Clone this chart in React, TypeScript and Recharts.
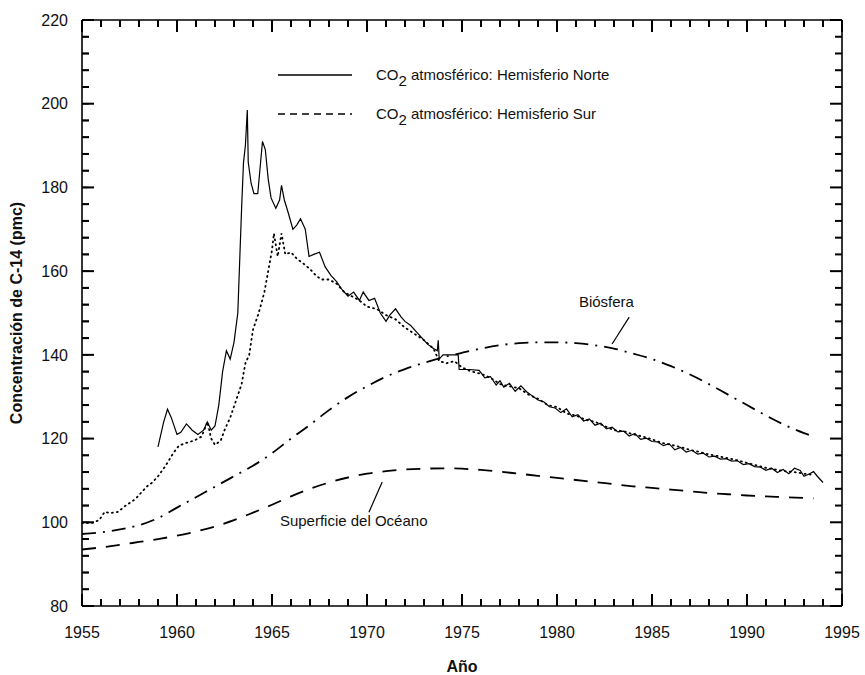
import React from 'react';
import { LineChart, Line, XAxis, YAxis, ReferenceLine, ReferenceDot, Customized } from 'recharts';

// ---------- DATA ----------
const nhYears = [
  1959.0, 1959.3, 1959.5, 1959.7, 1960.0, 1960.2, 1960.5, 1960.8, 1961.1, 1961.4, 1961.6, 1961.8,
  1962.0, 1962.2, 1962.4, 1962.6, 1962.8, 1963.0, 1963.2, 1963.4, 1963.5, 1963.6, 1963.7, 1963.75,
  1963.9, 1964.05, 1964.25, 1964.4, 1964.5, 1964.65, 1964.8, 1964.95, 1965.2, 1965.4, 1965.5, 1965.65,
  1965.85, 1966.1, 1966.3, 1966.5, 1966.75, 1966.95, 1967.2, 1967.5, 1967.8, 1968.1, 1968.4, 1968.7,
  1969.0, 1969.3, 1969.6, 1969.8, 1970.1, 1970.4, 1970.7, 1971.0, 1971.2, 1971.5, 1971.8, 1972.0,
  1972.3, 1972.6, 1972.9, 1973.2, 1973.5, 1973.7, 1973.75, 1973.8, 1974.0, 1974.4, 1974.8, 1974.85,
  1975.4, 1975.9, 1976.2, 1976.5, 1976.8, 1977.0, 1977.2, 1977.5, 1977.8, 1978.1, 1978.4, 1978.7,
  1979.0, 1979.3, 1979.6, 1979.9, 1980.2, 1980.5, 1980.8, 1981.1, 1981.4, 1981.7, 1982.0, 1982.3,
  1982.6, 1982.9, 1983.2, 1983.5, 1983.8, 1984.1, 1984.4, 1984.7, 1985.0, 1985.3, 1985.6, 1985.9,
  1986.2, 1986.5, 1986.8, 1987.1, 1987.4, 1987.7, 1988.0, 1988.3, 1988.6, 1988.9, 1989.2, 1989.5,
  1989.8, 1990.1, 1990.4, 1990.7, 1991.0, 1991.3, 1991.6, 1991.9, 1992.2, 1992.5, 1992.8, 1993.0,
  1993.3, 1993.5, 1993.7, 1994.0,
];
const nhValues = [
  118, 124, 127, 125, 121, 121.5, 123.5, 122, 121, 122, 124, 122,
  123, 128, 136, 141, 139, 143, 150, 175, 186, 190, 198.5, 186,
  181, 178.5, 178.5, 186, 191, 189, 182, 177.5, 175, 177, 180.5, 177,
  174, 170, 171, 172.5, 170, 163.5, 164, 164.5, 161, 159, 157.5, 155.5,
  154, 155, 153, 155, 153, 153.5, 150, 148, 149.5, 151, 149, 148,
  147, 145.5, 144, 142.5, 141.5, 141, 143.5, 139, 140, 140, 140, 136.5,
  136.5, 136.3, 134.5, 134.8, 132.8, 133.8, 132.3, 133.2, 131.3, 132.6, 131.2, 130.2,
  129.2, 128.8, 127.6, 127.3, 126.2, 127.1, 125.2, 125.7, 124.2, 124.7, 123.2, 123.7,
  122.3, 122.7, 121.6, 121.8, 120.6, 121.2, 119.8, 120.1, 119.3, 119.2, 118.3, 118.8,
  117.3, 117.9, 116.8, 117.2, 116.3, 116.5, 115.6, 115.8, 115.1, 115.2, 114.6, 114.7,
  113.8, 114, 113.3, 113.2, 112.4, 112.9, 111.9, 112.6, 111.6, 112.9, 112.4, 111,
  111.6, 112.1, 111, 109.5,
];

const shYears = [
  1955.0, 1955.5, 1955.9, 1956.2, 1956.5, 1956.9, 1957.3, 1957.8, 1958.1, 1958.4, 1958.7, 1959.0,
  1959.4, 1959.8, 1960.1, 1960.5, 1960.9, 1961.3, 1961.6, 1961.8, 1962.0, 1962.3, 1962.5, 1962.8,
  1963.1, 1963.4, 1963.6, 1963.8, 1964.0, 1964.3, 1964.6, 1964.8, 1965.0, 1965.1, 1965.3, 1965.5,
  1965.7, 1966.0, 1966.3, 1966.6, 1967.0, 1967.3, 1967.6, 1968.0, 1968.4, 1968.8, 1969.2, 1969.6,
  1970.0, 1970.5, 1971.0, 1971.5, 1972.0, 1972.5, 1973.0, 1973.5, 1973.8, 1974.2, 1974.6, 1975.0,
  1975.5, 1976.0, 1976.5, 1977.0, 1977.5, 1978.0, 1978.5, 1979.0, 1979.5, 1980.0, 1980.5, 1981.0,
  1981.5, 1982.0, 1982.5, 1983.0, 1983.5, 1984.0, 1984.5, 1985.0, 1985.5, 1986.0, 1986.5, 1987.0,
  1987.5, 1988.0, 1988.5, 1989.0, 1989.5, 1990.0, 1990.5, 1991.0, 1991.5, 1992.0, 1992.5, 1993.0,
  1993.5,
];
const shValues = [
  99.8, 99.8, 100.5, 102.5, 102.2, 102.5, 104, 105.5, 107, 108.5, 109.5, 111,
  113.5, 116.5, 118.3, 119, 119.5, 120.5, 124, 120, 118.5, 119.5, 122, 125,
  129, 133, 138, 140, 146, 150, 155, 160, 165, 169, 163.5, 169,
  164, 164.5, 163, 162, 160.5, 159, 158, 158, 157, 155, 154, 153,
  151.5, 151, 149.5, 148.5, 146.5, 145, 143.5, 141.5, 138.5, 138, 138.5, 137,
  136, 135.5, 134.5, 133, 132.5, 132, 130.5, 129.5, 128, 127.5, 126, 125.5,
  124.5, 124, 123, 122, 121.8, 121, 120.5, 119.8, 119, 118.5, 118, 117.3,
  116.8, 116.2, 115.8, 115.3, 114.8, 114.2, 113.6, 113, 112.6, 112.2, 112, 111.6,
  111.3,
];

const bioYears = [
  1955, 1956, 1957, 1958, 1959, 1960, 1961, 1962, 1963, 1964, 1965, 1966, 1967, 1968, 1969, 1970,
  1971, 1972, 1973, 1974, 1975, 1976, 1977, 1978, 1979, 1980, 1981, 1982, 1983, 1984, 1985, 1986,
  1987, 1988, 1989, 1990, 1991, 1992, 1993, 1993.5,
];
const bioValues = [
  97.2, 97.6, 98.3, 99.3, 101, 103.5, 106, 108.5, 111, 113.5, 116.5, 120, 123.3, 126.8, 129.9, 132.5,
  134.8, 136.6, 138.1, 139.4, 140.5, 141.5, 142.3, 142.8, 143, 143, 142.8, 142.3, 141.5, 140.3, 139, 137.3,
  135.3, 133, 130.5, 128, 125.5, 123.2, 121.3, 120.5,
];

const oceanYears = [
  1955, 1956, 1957, 1958, 1959, 1960, 1961, 1962, 1963, 1964, 1965, 1966, 1967, 1968, 1969, 1970,
  1971, 1972, 1973, 1974, 1975, 1976, 1977, 1978, 1979, 1980, 1981, 1982, 1983, 1984, 1985, 1986,
  1987, 1988, 1989, 1990, 1991, 1992, 1993, 1993.5,
];
const oceanValues = [
  93.5, 94, 94.6, 95.3, 96, 96.8, 97.8, 99, 100.5, 102.3, 104.2, 106.2, 108, 109.5, 110.7, 111.6,
  112.2, 112.6, 112.8, 112.9, 112.8, 112.5, 112.1, 111.6, 111.1, 110.6, 110.1, 109.6, 109.1, 108.6, 108.2, 107.8,
  107.4, 107, 106.7, 106.4, 106.2, 106, 105.8, 105.7,
];

const xMajorLabels = [1955, 1960, 1965, 1970, 1975, 1980, 1985, 1990, 1995];
const yMajorLabels = [80, 100, 120, 140, 160, 180, 200, 220];
const xTicks = Array.from({ length: 41 }, (_, i) => 1955 + i);
const yTicks = Array.from({ length: 36 }, (_, i) => 80 + i * 4);

const legendLabels = ['atmosférico: Hemisferio Norte', 'atmosférico: Hemisferio Sur'];
const biosphereLabel = 'Biósfera';
const oceanLabel = 'Superficie del Océano';
const yTitle = 'Concentración de C-14 (pmc)';
const xTitle = 'Año';

// ---------- build ----------
const toRows = (xs: number[], ys: number[]) => xs.map((x, i) => ({ year: x, value: ys[i] }));
const nhData = toRows(nhYears, nhValues);
const shData = toRows(shYears, shValues);
const bioData = toRows(bioYears, bioValues);
const oceanData = toRows(oceanYears, oceanValues);

const X_MIN = 1955, X_MAX = 1995, Y_MIN = 80, Y_MAX = 220;

// layout
const W = 865, H = 675;
const M = { top: 20, right: 23, bottom: 69, left: 82 };
const PL = M.left, PR = W - M.right, PT = M.top, PB = H - M.bottom;
const sx = (v: number) => PL + ((v - X_MIN) / (X_MAX - X_MIN)) * (PR - PL);
const sy = (v: number) => PB - ((v - Y_MIN) / (Y_MAX - Y_MIN)) * (PB - PT);
const MAJOR = 12, MINOR = 7;

const FONT = '"Liberation Sans", Arial, Helvetica, sans-serif';
const INK = '#000';
const tickLineStyle = { stroke: INK, strokeWidth: 1.5 };

// labels placed from the frame edges, tick x/y from the axis scale
const BottomTick = (props: any) => {
  const { x, payload } = props;
  if (!xMajorLabels.includes(payload.value)) return <g />;
  return (
    <text x={x} y={PB + 32} textAnchor="middle" fontSize={16} fill="#111" fontFamily={FONT}>
      {payload.value}
    </text>
  );
};
const LeftTick = (props: any) => {
  const { y, payload } = props;
  if (!yMajorLabels.includes(payload.value)) return <g />;
  return (
    <text x={PL - 14} y={y} dy="0.36em" textAnchor="end" fontSize={16} fill="#111" fontFamily={FONT}>
      {payload.value}
    </text>
  );
};
const NoLabel = () => <g />;

const Decorations = () => {
  const ticks: React.ReactNode[] = [];
  xTicks.forEach((t) => {
    const len = xMajorLabels.includes(t) ? MAJOR : MINOR;
    const x = sx(t);
    ticks.push(<rect key={`b${t}`} x={x - 1} y={PB - len} width={2} height={len} fill={INK} />);
    ticks.push(<rect key={`t${t}`} x={x - 1} y={PT} width={2} height={len} fill={INK} />);
  });
  yTicks.forEach((t) => {
    const len = yMajorLabels.includes(t) ? MAJOR : MINOR;
    const y = sy(t);
    ticks.push(<rect key={`l${t}`} x={PL} y={y - 1} width={len} height={2} fill={INK} />);
    ticks.push(<rect key={`r${t}`} x={PR - len} y={y - 1} width={len} height={2} fill={INK} />);
  });
  return (
    <g fontFamily={FONT} fill="#111">
      {ticks}
      <line x1={278} y1={75} x2={352} y2={75} stroke={INK} strokeWidth={1.3} />
      <text x={376} y={80} fontSize={15}>
        CO<tspan dy={6}>2</tspan>
        <tspan dy={-6}> {legendLabels[0]}</tspan>
      </text>
      <line x1={278} y1={114} x2={352} y2={114} stroke={INK} strokeWidth={1.3} strokeDasharray="7 5" />
      <text x={376} y={119} fontSize={15}>
        CO<tspan dy={6}>2</tspan>
        <tspan dy={-6}> {legendLabels[1]}</tspan>
      </text>
      <text x={22} y={313} transform="rotate(-90 22 313)" textAnchor="middle" fontSize={16} fontWeight="bold">
        {yTitle}
      </text>
      <text x={462} y={672} textAnchor="middle" fontSize={16} fontWeight="bold">
        {xTitle}
      </text>
    </g>
  );
};

export default function App() {
  return (
    <div style={{ position: 'absolute', left: 0, top: 0, width: W, height: H, background: '#fff' }}>
      <LineChart width={W} height={H} margin={{ top: M.top - 10, right: M.right - 10, bottom: 0, left: 0 }}>
        <XAxis
          dataKey="year"
          type="number"
          domain={[X_MIN, X_MAX]}
          ticks={xTicks}
          interval={0}
          height={M.bottom}
          tickSize={-MINOR}
          tickMargin={0}
          tickLine={tickLineStyle}
          tick={<BottomTick />}
          axisLine={{ stroke: INK, strokeWidth: 1.6 }}
        />
        <XAxis
          xAxisId="top"
          orientation="top"
          dataKey="year"
          type="number"
          domain={[X_MIN, X_MAX]}
          ticks={xTicks}
          interval={0}
          height={10}
          tickSize={-MINOR}
          tickMargin={0}
          tickLine={tickLineStyle}
          tick={<NoLabel />}
          axisLine={{ stroke: INK, strokeWidth: 1.6 }}
        />
        <YAxis
          type="number"
          domain={[Y_MIN, Y_MAX]}
          ticks={yTicks}
          interval={0}
          width={M.left}
          tickSize={-MINOR}
          tickMargin={0}
          tickLine={tickLineStyle}
          tick={<LeftTick />}
          axisLine={{ stroke: INK, strokeWidth: 1.6 }}
        />
        <YAxis
          yAxisId="right"
          orientation="right"
          type="number"
          domain={[Y_MIN, Y_MAX]}
          ticks={yTicks}
          interval={0}
          width={10}
          tickSize={-MINOR}
          tickMargin={0}
          tickLine={tickLineStyle}
          tick={<NoLabel />}
          axisLine={{ stroke: INK, strokeWidth: 1.6 }}
        />

        <Line data={oceanData} dataKey="value" type="monotone" stroke={INK} strokeWidth={1.8}
          strokeDasharray="14 10" dot={false} isAnimationActive={false} />
        <Line data={bioData} dataKey="value" type="monotone" stroke={INK} strokeWidth={1.8}
          strokeDasharray="14 7 2 7" dot={false} isAnimationActive={false} />
        <Line data={shData} dataKey="value" type="linear" stroke={INK} strokeWidth={1.8}
          strokeDasharray="1 4" strokeLinecap="round" dot={false} isAnimationActive={false} />
        <Line data={nhData} dataKey="value" type="linear" stroke={INK} strokeWidth={1.2}
          dot={false} isAnimationActive={false} />

        <ReferenceLine segment={[{ x: 1983.8, y: 149 }, { x: 1982.9, y: 142.6 }]} stroke={INK} strokeWidth={1.2} />
        <ReferenceLine segment={[{ x: 1970.8, y: 109.6 }, { x: 1970.1, y: 102.4 }]} stroke={INK} strokeWidth={1.2} />
        <ReferenceDot x={1982.6} y={152.8} r={0} fill="none" stroke="none"
          label={{ value: biosphereLabel, position: 'center', fontSize: 15, fill: '#111', fontFamily: FONT }} />
        <ReferenceDot x={1969.3} y={100.3} r={0} fill="none" stroke="none"
          label={{ value: oceanLabel, position: 'center', fontSize: 15, fill: '#111', fontFamily: FONT }} />
        <Customized component={Decorations} />
      </LineChart>
    </div>
  );
}
